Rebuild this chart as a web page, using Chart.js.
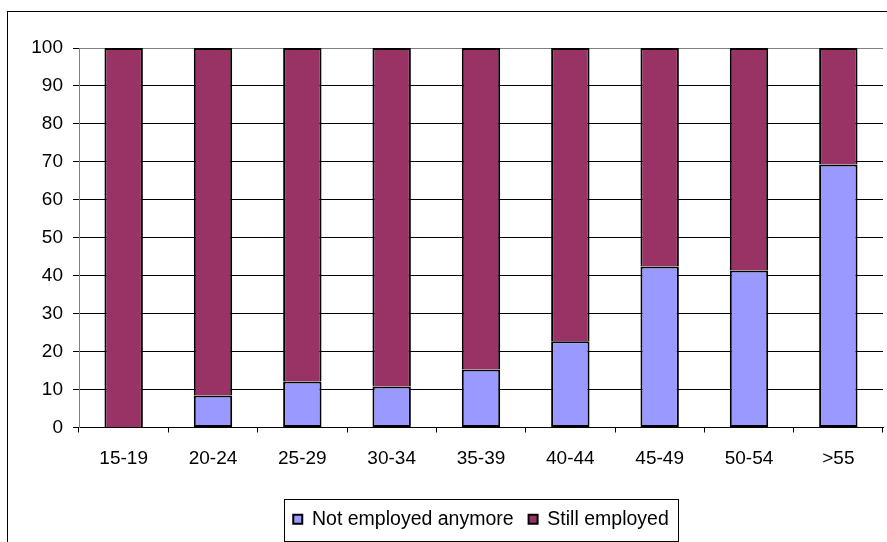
<!DOCTYPE html>
<html>
<head>
<meta charset="utf-8">
<script src="https://cdn.jsdelivr.net/npm/chart.js@4/dist/chart.umd.min.js"></script>
<style>
  html, body { margin: 0; padding: 0; background: #fff; }
  #wrap { width: 887px; height: 542px; }
</style>
</head>
<body>
<div id="wrap"><canvas id="c" width="887" height="542"></canvas></div>
<script>
const categories = ['15-19', '20-24', '25-29', '30-34', '35-39', '40-44', '45-49', '50-54', '>55'];
const notEmployed = [0, 8.4, 12.1, 10.8, 15.3, 22.7, 42.4, 41.4, 69.3];
const stillEmployed = [100, 91.6, 87.9, 89.2, 84.7, 77.3, 57.6, 58.6, 30.7];
const yTicks = [0, 10, 20, 30, 40, 50, 60, 70, 80, 90, 100];

const FONT = "'Liberation Sans', Arial, sans-serif";

const framePlugin = {
  id: 'frame',
  beforeDraw(chart) {
    const ctx = chart.ctx;
    ctx.save();
    ctx.fillStyle = '#fff';
    ctx.fillRect(0, 0, chart.width, chart.height);
    ctx.strokeStyle = '#000';
    ctx.lineWidth = 1;
    ctx.strokeRect(7.5, 11.5, 900, 600);
    ctx.restore();
  },
  afterDraw(chart) {
    const lg = chart.legend;
    if (!lg || !lg.legendHitBoxes || !lg.legendHitBoxes.length) return;
    const hb = lg.legendHitBoxes;
    const first = hb[0], last = hb[hb.length - 1];
    const ctx = chart.ctx;
    ctx.save();
    ctx.strokeStyle = '#000';
    ctx.lineWidth = 1;
    const l = Math.round(first.left - 9) + 0.5;
    const r = Math.round(last.left + last.width + 9) + 0.5;
    const t = Math.round(first.top - 11) + 0.5;
    const b = Math.round(first.top + first.height + 12) + 0.5;
    ctx.strokeRect(l, t, r - l, b - t);
    ctx.restore();
  }
};

new Chart(document.getElementById('c'), {
  type: 'bar',
  data: {
    labels: categories,
    datasets: [
      {
        label: 'Not employed anymore',
        data: notEmployed,
        backgroundColor: '#9999FF',
        borderColor: '#000000',
        borderWidth: 2,
        borderSkipped: false,
        barPercentage: 0.43,
        categoryPercentage: 1.0
      },
      {
        label: 'Still employed',
        data: stillEmployed,
        backgroundColor: '#993366',
        borderColor: '#000000',
        borderWidth: 2,
        borderSkipped: 'bottom',
        barPercentage: 0.43,
        categoryPercentage: 1.0
      }
    ]
  },
  options: {
    responsive: false,
    animation: false,
    devicePixelRatio: 1,
    layout: { padding: { left: 0, right: 4, top: 48, bottom: 3 } },
    plugins: {
      tooltip: { enabled: false },
      legend: {
        position: 'bottom',
        fullSize: false,
        labels: {
          font: { family: FONT, size: 19.5 },
          color: '#000',
          boxWidth: 9,
          boxHeight: 9,
          padding: 15
        }
      }
    },
    scales: {
      x: {
        stacked: true,
        grid: {
          drawOnChartArea: false,
          drawTicks: true,
          tickLength: 5,
          color: '#000'
        },
        border: { color: '#000', width: 1 },
        ticks: {
          font: { family: FONT, size: 19 },
          color: '#000',
          padding: 15,
          maxRotation: 0
        },
        afterFit(scale) { scale.height = 67; }
      },
      y: {
        stacked: true,
        min: 0,
        max: 100,
        afterBuildTicks(scale) { scale.ticks = yTicks.map(v => ({ value: v })); },
        grid: {
          color: (ctx) => (ctx.tick && ctx.tick.value === 100 ? '#808080' : '#000'),
          tickLength: 6,
          tickColor: '#000'
        },
        border: { color: '#808080', width: 1 },
        ticks: {
          font: { family: FONT, size: 19 },
          color: '#000',
          padding: 10
        },
        afterFit(scale) { scale.width = 79; }
      }
    }
  },
  plugins: [framePlugin]
});
</script>
</body>
</html>
